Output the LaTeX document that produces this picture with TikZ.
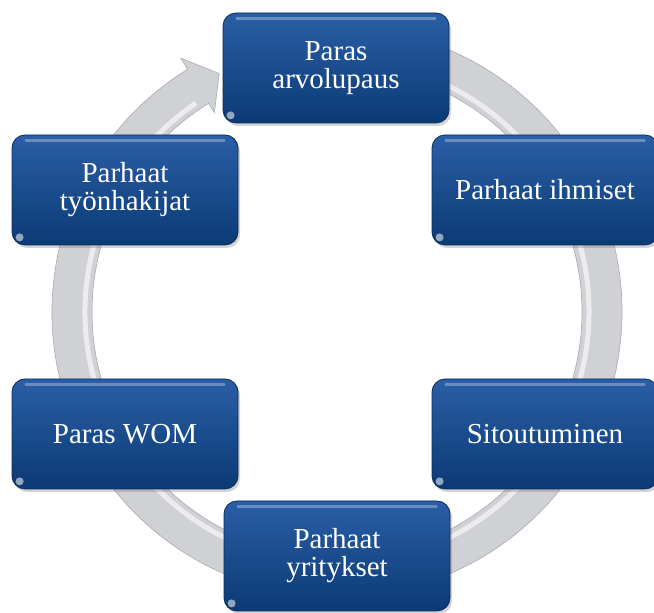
\documentclass[tikz,border=0pt]{standalone}
\usepackage{fontspec}
\setmainfont{Liberation Serif}
\usetikzlibrary{shadows}
\definecolor{boxtop}{HTML}{2A5EA6}
\definecolor{boxbot}{HTML}{0B3A75}
\definecolor{boxline}{HTML}{0A2C5C}
\definecolor{ringfill}{HTML}{D0D1D5}
\definecolor{ringedge}{HTML}{A9ABB0}
\tikzset{
  stepbox/.style={rounded corners=13pt, minimum width=226pt, minimum height=110pt,
    top color=boxtop, bottom color=boxbot, draw=boxline, line width=0.8pt,
    text=white, font=\fontsize{29}{28}\selectfont, align=center, inner sep=0pt,
    drop shadow={shadow xshift=2pt,shadow yshift=-3pt,opacity=0.35}},
  ringshape/.style={fill=ringfill, draw=ringedge, line width=0.6pt},
  ringglow/.style={draw=white, opacity=0.6, line width=5pt},
  gloss/.style={draw=white, opacity=0.3, line width=2.2pt, line cap=round},
  glare/.style={fill=white, opacity=0.55},
}
\begin{document}
\begin{tikzpicture}[x=1pt,y=1pt]
\useasboundingbox (0,0) rectangle (654,613);
% ring arrow
\begin{scope}[shift={(337,301)}]
  \coordinate (rc) at (0,0);
  \path[ringshape] (80:285pt) arc[start angle=80, end angle=-238.4, radius=285pt]
     -- (121.6:298pt) -- (116.3:266pt) -- (121.6:234pt) -- (121.6:245pt)
     arc[start angle=121.6, end angle=440, radius=245pt] -- cycle;
  \draw[ringglow] (80:252pt) arc[start angle=80, end angle=-236, radius=252pt];
\end{scope}
% boxes
\node[stepbox] (top) at (336,545) {Paras\\arvolupaus};
\node[stepbox] (ur) at (545,423) {Parhaat ihmiset};
\node[stepbox] (lr) at (545,179) {Sitoutuminen};
\node[stepbox] (bot) at (337,57) {Parhaat\\yritykset};
\node[stepbox] (ll) at (125,179) {Paras WOM};
\node[stepbox] (ul) at (125,423) {Parhaat\\työnhakijat};
\foreach \b in {top,ur,lr,bot,ll,ul}{
  \draw[gloss] ([xshift=14pt,yshift=-6pt]\b.north west) -- ([xshift=-14pt,yshift=-6pt]\b.north east);
  \fill[glare] ([xshift=8pt,yshift=8pt]\b.south west) circle (4pt);
}
\end{tikzpicture}
\end{document}
